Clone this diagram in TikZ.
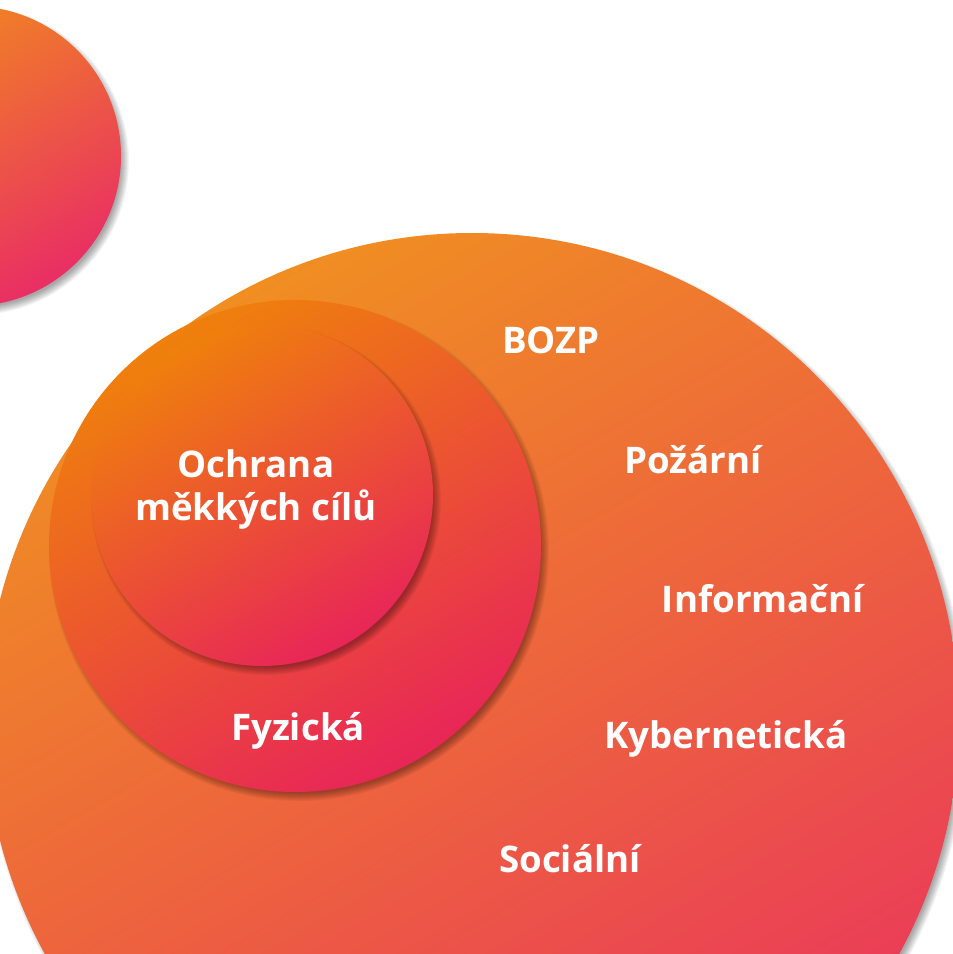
\documentclass[tikz,border=0pt]{standalone}
\usepackage{fontspec}
\setmainfont{Open Sans}
\usetikzlibrary{positioning}
\tikzstyle{canvas} = [x = 0.75pt, y = -0.75pt]
\definecolor{outerTop}{RGB}{240,142,34}
\definecolor{outerBottom}{RGB}{234,56,90}
\definecolor{ringTop}{RGB}{239,128,12}
\definecolor{ringBottom}{RGB}{232,38,88}
\definecolor{ballTop}{RGB}{241,136,32}
\definecolor{ballBottom}{RGB}{233,46,100}
\tikzstyle{shadowStyle} = [black, opacity = 0.045]
\tikzstyle{labelText} = [text = white, anchor = base, font = \fontsize{27.5}{32.25}\selectfont\bfseries]
\newcommand{\softShadow}[3]{
  \foreach \k in {0,...,8} {
    \fill [shadowStyle] (#1 + 4, #2 + 5) circle (#3 - 4 + \k);
  }
}
\newcommand{\gradientCircle}[5]{\shade [top color = #4, bottom color = #5, shading angle = 30] (#1, #2) circle (#3);}

\begin{document}
\begin{tikzpicture}[canvas]
  \useasboundingbox (0,0) rectangle (953,954);
  \clip (0,0) rectangle (953,954);
  \fill [white] (0,0) rectangle (953,954);

  % small ball, top left
  \softShadow{-29}{156}{150}
  \gradientCircle{-29}{156}{150}{ballTop}{ballBottom}

  % outer circle
  \softShadow{472}{720}{487}
  \gradientCircle{472}{720}{487}{outerTop}{outerBottom}

  % physical ring
  \softShadow{295}{546}{246}
  \gradientCircle{295}{546}{246}{ringTop}{ringBottom}

  % soft targets
  \softShadow{262}{495}{171}
  \gradientCircle{262}{495}{171}{ringTop}{ringBottom}

  \node [labelText, align = center] (soft) at (256,520) {Ochrana\\měkkých cílů};
  \node [labelText] (fyzicka) at (298,740) {Fyzická};
  \node [labelText] (bozp) at (551,353) {BOZP};
  \node [labelText] (pozarni) at (693,473) {Požární};
  \node [labelText] (informacni) at (763,612) {Informační};
  \node [labelText] (kyber) at (726,748) {Kybernetická};
  \node [labelText] (socialni) at (570,872) {Sociální};
\end{tikzpicture}
\end{document}
